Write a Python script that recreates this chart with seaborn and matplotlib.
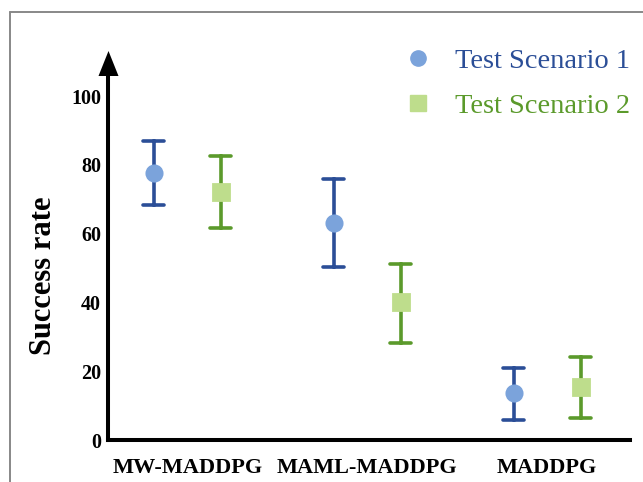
import numpy as np
import pandas as pd
import matplotlib
matplotlib.use("Agg")
import matplotlib.pyplot as plt
from matplotlib.lines import Line2D
from matplotlib.path import Path
import seaborn as sns

methods = ["MW-MADDPG", "MAML-MADDPG", "MADDPG"]
scenarios = ["Test Scenario 1", "Test Scenario 2"]
s1_mean = [77.6, 63.1, 13.7]
s1_low = [68.3, 50.3, 5.8]
s1_high = [86.9, 75.9, 20.9]
s2_mean = [72.1, 40.1, 15.4]
s2_low = [61.6, 28.2, 6.4]
s2_high = [82.6, 51.2, 24.1]
yticks = [0, 20, 40, 60, 80, 100]

rows = []
for sc, lo, mu, hi in [(scenarios[0], s1_low, s1_mean, s1_high),
                       (scenarios[1], s2_low, s2_mean, s2_high)]:
    for m, a, b, c in zip(methods, lo, mu, hi):
        for v in (a, b, c):
            rows.append({"Method": m, "Scenario": sc, "Success rate": v})
df = pd.DataFrame(rows)

sns.set_theme(style="white")
plt.rcParams["font.family"] = ["Liberation Serif", "DejaVu Serif"]
plt.rcParams["text.color"] = "black"
plt.rcParams["axes.labelcolor"] = "black"
plt.rcParams["xtick.color"] = "black"
plt.rcParams["ytick.color"] = "black"

dark = ["#2B4E97", "#5B9A2B"]
light = ["#7BA3DB", "#BEDD8C"]

fig = plt.figure(figsize=(6.43, 4.82), dpi=100)
# axes: left x=108px, right x=630px, bottom y=440px, top y=50px
ax = fig.add_axes([108 / 643, 42 / 482, 522 / 643, 390 / 482])

common = dict(data=df, x="Method", y="Success rate", hue="Scenario",
              hue_order=scenarios, order=methods, dodge=0.372,
              linestyle="none", estimator="median", ax=ax)
sns.pointplot(**common, palette=dark, markers="", errorbar=lambda v: (v.min(), v.max()),
              capsize=0.115, err_kws={"linewidth": 2.6})
sns.pointplot(**common, palette=light, markers=["o", "s"], markersize=11,
              errorbar=None)

ax.set_xlim(-0.44, 2.46)
ax.set_ylim(0, 390 / 3.44)
ax.set_yticks(yticks)
ax.set_yticklabels([str(t) for t in yticks], fontweight="bold", fontsize=14.5)
ax.set_xticks(range(len(methods)))
ax.set_xticklabels(methods, fontweight="bold", fontsize=16)
ax.set_xlabel("")
ax.set_ylabel("Success rate", fontweight="bold", fontsize=22)
ax.yaxis.set_label_coords(-50 / 522, (440 - 276) / 390)

for s in ["top", "right"]:
    ax.spines[s].set_visible(False)
for s in ["left", "bottom"]:
    ax.spines[s].set_color("black")
    ax.spines[s].set_linewidth(2.9)
ax.spines["left"].set_bounds(0, (440 - 66) / 3.44)
ax.tick_params(axis="y", direction="in", length=7, width=2.4, pad=5)
ax.tick_params(axis="x", length=0, pad=13)

arrow_head = Path([(-0.8, -1.0), (0.8, -1.0), (0.0, 1.0), (-0.8, -1.0)],
                  [Path.MOVETO, Path.LINETO, Path.LINETO, Path.CLOSEPOLY])
ax.plot([0], [(440 - 62.5) / 390], marker=arrow_head, markersize=18, color="black",
        markeredgewidth=0, transform=ax.transAxes, clip_on=False)

handles = [Line2D([], [], marker="o", linestyle="none", color=light[0], markersize=11),
           Line2D([], [], marker="s", linestyle="none", color=light[1], markersize=11)]
ax.legend(handles, scenarios, loc="upper right", bbox_to_anchor=(1.0, (440 - 48) / 390),
          frameon=False, fontsize=20.5, labelcolor=dark, handletextpad=0.3,
          labelspacing=0.68, borderpad=0, borderaxespad=0)

fig.add_artist(Line2D([0.0155, 0.0155], [0, 0.975], color="#888888", linewidth=1.4,
                      transform=fig.transFigure))
fig.add_artist(Line2D([0.0155, 1.0], [0.975, 0.975], color="#888888", linewidth=1.4,
                      transform=fig.transFigure))

fig.savefig("out.png", dpi=100)
